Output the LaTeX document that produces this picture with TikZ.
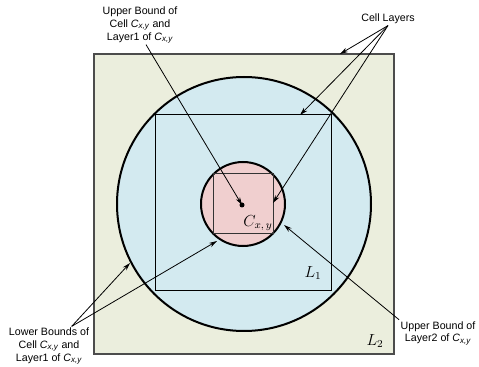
\documentclass[tikz,border=0pt]{standalone}
\usepackage[no-math]{fontspec}
\setmainfont{Liberation Sans}
\usetikzlibrary{arrows.meta,positioning}
\definecolor{beige}{HTML}{EBEEDD}
\definecolor{paleblue}{HTML}{D3EAF0}
\definecolor{palepink}{HTML}{F0CFCF}
\newcommand{\cxy}{{\itshape C}\textsubscript{\itshape x,y}}

\begin{document}
\begin{tikzpicture}[x=0.75pt,y=-0.75pt,
    lbl/.style={font=\footnotesize, align=center, inner sep=1pt},
    pointer/.style={-{Stealth[length=6pt,width=3.5pt]}, line width=0.6pt},
    layer/.style={line width=1.5pt},
    bound/.style={line width=0.75pt}]
    \useasboundingbox (0,0) rectangle (479,367);

    % Layer 2 region
    \draw[fill=beige, draw=black!70, line width=0.9pt] (94,54) rectangle (394,354);

    % Layer 1 region and its square
    \draw[fill=paleblue, layer] (244,204) circle (127);
    \draw[bound] (155,115) rectangle (331,291);

    % Cell
    \draw[fill=palepink, layer] (243,204) circle (42);
    \draw[bound, black!80] (213,174) rectangle (273,234);
    \fill (242,205) circle (2.5);

    % Region labels
    \node[font=\large] (cxy) at (258,223) {$C_{x,\,y}$};
    \node[font=\large] (lone) at (313,273) {$L_1$};
    \node[font=\large] (ltwo) at (375,341) {$L_2$};

    % Annotations
    \node[lbl] (upcell) at (140,25) {Upper Bound of\\Cell \cxy\ and\\Layer1 of \cxy};
    \node[lbl] (layers) at (388,19) {Cell Layers};
    \node[lbl] (lowcell) at (49,346) {Lower Bounds of\\Cell \cxy\ and\\Layer1 of \cxy};
    \node[lbl] (uplayer) at (438,333) {Upper Bound of\\Layer2 of \cxy};

    % Arrow targets
    \coordinate (dot) at (242,205);
    \coordinate (outertop) at (340,54);
    \coordinate (innertop) at (300,115);
    \coordinate (smallright) at (273,203);
    \coordinate (bigrim) at (130,263);
    \coordinate (smallrim) at (217,241);
    \coordinate (smallrimr) at (284,225);

    % Connectors
    \draw[pointer] ([xshift=4.5pt]upcell.south) -- (dot);
    \foreach \t in {outertop,innertop,smallright} {
        \draw[pointer] (layers.south) -- (\t);
    }
    \draw[pointer] ([xshift=17pt]lowcell.north) -- (bigrim);
    \draw[pointer] ([xshift=17pt]lowcell.north) -- (smallrim);
    \draw[pointer] (uplayer.north west) -- (smallrimr);
\end{tikzpicture}
\end{document}
